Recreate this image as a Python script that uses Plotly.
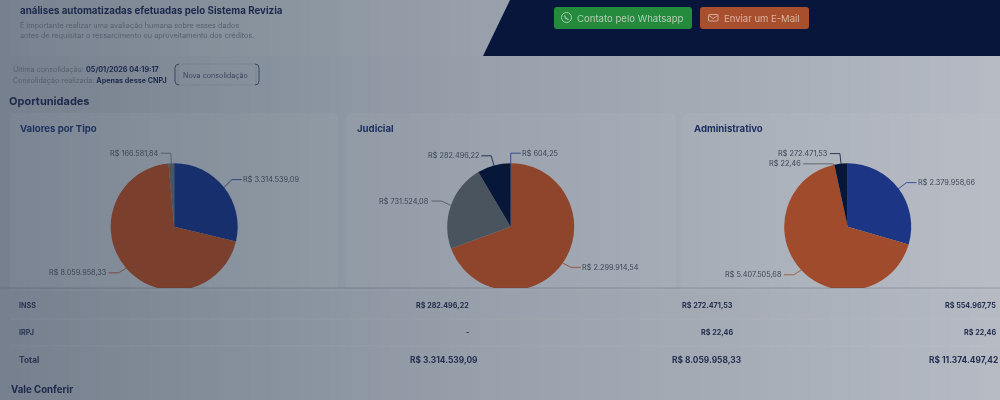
import math
import plotly.graph_objects as go

W, H = 1000, 400

# valores
tipo_valores = [3314539.09, 8059958.33, 166581.84]
tipo_cores = ['#182f6e', '#7b3f2e', '#4a555f']

judicial_valores = [604.25, 2299914.54, 731524.08, 282496.22]
judicial_cores = ['#1d357a', '#8f452c', '#4a545e', '#07173a']

admin_valores = [2379958.66, 5407505.68, 22.46, 272471.53]
admin_cores = ['#1c3584', '#a04b2b', '#4a545e', '#07173a']

tabela_linhas = ['INSS', 'IRPJ', 'Total']
tabela_judicial = ['R$ 282.496,22', '-', 'R$ 3.314.539,09']
tabela_admin = ['R$ 272.471,53', 'R$ 22,46', 'R$ 8.059.958,33']
tabela_total = ['R$ 554.967,75', 'R$ 22,46', 'R$ 11.374.497,42']

FONTE = 'Inter'
ESCURO = '#1c294b'
CINZA = '#56606f'

# gradiente do fundo (x, r, g, b)
fundo_stops = [(0, 118, 128, 142), (300, 138, 148, 160), (500, 153, 161, 172),
               (700, 164, 171, 181), (1000, 182, 187, 196)]


def px(x):
    return x / W


def py(y):
    return 1 - y / H


def brl(v):
    s = f'{v:,.2f}'.replace(',', '#').replace('.', ',').replace('#', '.')
    return 'R$ ' + s


def cor_fundo(x, extra=0):
    for (x0, r0, g0, b0), (x1, r1, g1, b1) in zip(fundo_stops, fundo_stops[1:]):
        if x <= x1:
            t = (x - x0) / (x1 - x0)
            return 'rgb(%d,%d,%d)' % (r0 + (r1 - r0) * t + extra,
                                      g0 + (g1 - g0) * t + extra,
                                      b0 + (b1 - b0) * t + extra)
    return 'rgb(182,187,196)'


def caminho(pontos, fechar=False):
    d = 'M' + ' L'.join(f'{px(x):.5f},{py(y):.5f}' for x, y in pontos)
    return d + (' Z' if fechar else '')


def ret_arred(x0, y0, x1, y1, r):
    return (f'M{px(x0 + r):.5f},{py(y0):.5f} L{px(x1 - r):.5f},{py(y0):.5f} '
            f'Q{px(x1):.5f},{py(y0):.5f} {px(x1):.5f},{py(y0 + r):.5f} '
            f'L{px(x1):.5f},{py(y1 - r):.5f} '
            f'Q{px(x1):.5f},{py(y1):.5f} {px(x1 - r):.5f},{py(y1):.5f} '
            f'L{px(x0 + r):.5f},{py(y1):.5f} '
            f'Q{px(x0):.5f},{py(y1):.5f} {px(x0):.5f},{py(y1 - r):.5f} '
            f'L{px(x0):.5f},{py(y0 + r):.5f} '
            f'Q{px(x0):.5f},{py(y0):.5f} {px(x0 + r):.5f},{py(y0):.5f} Z')


shapes = []
annotations = []


def forma(d, fill='rgba(0,0,0,0)', line=None, width=1, layer='below'):
    shapes.append(dict(type='path', path=d, xref='paper', yref='paper', fillcolor=fill,
                       line=dict(color=line or 'rgba(0,0,0,0)', width=width if line else 0),
                       layer=layer))


def texto(x, y, s, size=8, color=CINZA, anchor='left', bold=False):
    annotations.append(dict(x=px(x), y=py(y), xref='paper', yref='paper', text=f'<b>{s}</b>' if bold else s,
                            showarrow=False, xanchor=anchor, yanchor='middle', align=anchor,
                            borderpad=0, borderwidth=0, font=dict(family=FONTE, size=size, color=color)))


# faixas do gradiente: a parte de baixo fica acima das pizzas (tabela corta as fatias)
for x in range(0, W, 10):
    c = cor_fundo(x + 5)
    for y0, y1, layer in [(0, 288, 'below'), (288, 400, 'above')]:
        forma(caminho([(x, y0), (x + 10.5, y0), (x + 10.5, y1), (x, y1)], True), fill=c, layer=layer)

# cartões
forma(ret_arred(10, -10, 480, 56, 6), fill='rgba(255,255,255,0.02)')
for x0, x1 in [(10, 338), (346, 676), (683, 1010)]:
    forma(ret_arred(x0, 113, x1, 300, 6), fill='rgba(255,255,255,0.04)')
forma(caminho([(0, 288), (1000, 288)]), line='rgba(50,60,75,0.25)', layer='above')

# faixa escura do topo
forma(caminho([(510, 0), (1000, 0), (1000, 56), (483, 56)], True), fill='#07163a')
forma(ret_arred(554, 7, 692, 29, 3), fill='#248a3c')
forma(ret_arred(700, 7, 809, 29, 3), fill='#a84f2e')
shapes.append(dict(type='circle', xref='paper', yref='paper', x0=px(561.5), x1=px(571.5), y0=py(12.5), y1=py(22.5),
                   line=dict(color='#a9c9b0', width=1)))
forma(caminho([(564.5, 15.5), (565.5, 18), (568.5, 19.8)]), line='#a9c9b0', width=1.2)
forma(ret_arred(708.5, 14.5, 718, 21, 1), line='#d9ab98')
forma(caminho([(709, 15.5), (713.2, 18.5), (717.5, 15.5)]), line='#d9ab98')
texto(577, 18, 'Contato pelo Whatsapp', 9.6, '#b4cdb9')
texto(724, 18, 'Enviar um E-Mail', 9.5, '#dcb3a2')

# cabeçalho
texto(20, 10, 'análises automatizadas efetuadas pelo Sistema Revizia', 9.75, ESCURO, bold=True)
texto(20, 25, 'É importante realizar uma avaliação humana sobre esses dados', 7.3)
texto(20, 36, 'antes de requisitar o ressarcimento ou aproveitamento dos créditos.', 7.3)
texto(13, 69.5, 'Última consolidação: <b style="color:#1c294b">05/01/2026 04:19:17</b>', 7.2)
texto(13, 80.5, 'Consolidação realizada: <b style="color:#1c294b">Apenas desse CNPJ</b>', 7.2)
texto(183, 75, 'Nova consolidação', 7.2, '#3c4760')
forma(f'M{px(179):.5f},{py(64):.5f} Q{px(175):.5f},{py(64):.5f} {px(175):.5f},{py(68):.5f} '
      f'L{px(175):.5f},{py(81):.5f} Q{px(175):.5f},{py(85):.5f} {px(179):.5f},{py(85):.5f}', line='#3c4760')
forma(f'M{px(255):.5f},{py(64):.5f} Q{px(259):.5f},{py(64):.5f} {px(259):.5f},{py(68):.5f} '
      f'L{px(259):.5f},{py(81):.5f} Q{px(259):.5f},{py(85):.5f} {px(255):.5f},{py(85):.5f}', line='#3c4760')
forma(ret_arred(178, 64, 256, 85, 1), line='rgba(60,71,96,0.15)')
texto(9, 101.5, 'Oportunidades', 11, ESCURO, bold=True)
texto(11, 389, 'Vale Conferir', 9.7, ESCURO, bold=True)

fig = go.Figure()

# pizzas: centro, raio, título
CY, R = 226.7, 63.5
pizzas = [
    dict(cx=174.2, titulo='Valores por Tipo', tx=20, valores=tipo_valores, cores=tipo_cores,
         dy={0: -1.5, 1: -2}, l2={}),
    dict(cx=510.7, titulo='Judicial', tx=357, valores=judicial_valores, cores=judicial_cores,
         dy={1: -1.5, 2: -1}, l2={}),
    dict(cx=847.7, titulo='Administrativo', tx=694, valores=admin_valores, cores=admin_cores,
         dy={1: -2, 2: 9}, l2={2: 19}),
]

for p in pizzas:
    fig.add_trace(go.Pie(
        values=p['valores'],
        sort=False,
        direction='clockwise',
        rotation=0,
        textinfo='none',
        hoverinfo='skip',
        showlegend=False,
        marker=dict(colors=p['cores'], line=dict(width=0)),
        domain=dict(x=[px(p['cx'] - R), px(p['cx'] + R)], y=[py(CY + R), py(CY - R)]),
    ))
    texto(p['tx'], 128, p['titulo'], 9.6, '#1e3160', bold=True)

    # linhas guia calculadas do ângulo de cada fatia
    total = sum(p['valores'])
    acum = 0
    for i, v in enumerate(p['valores']):
        meio = (acum + v / 2) / total * 2 * math.pi
        acum += v
        sx, cx_ = math.sin(meio), math.cos(meio)
        x0, y0 = p['cx'] + R * sx, CY - R * cx_
        x1, y1 = p['cx'] + (R + 10) * sx, CY - (R + 10) * cx_ + p['dy'].get(i, 0)
        lado = 1 if (sx > 0 or v / total < 0.001 and i == 0) else -1
        x2 = x1 + lado * (10 + p['l2'].get(i, 0))
        forma(caminho([(x0, y0), (x1, y1), (x2, y1)]), line=p['cores'][i], width=0.8)
        texto(x2 + (1.5 if lado > 0 else -2), y1, brl(v), 7.3, '#3b4554', 'left' if lado > 0 else 'right')

# tabela
y_linhas = [305, 332, 360]
for y in [290, 319, 346]:
    forma(caminho([(10, y), (1000, y)]), line='rgba(255,255,255,0.07)', layer='above')
for i, y in enumerate(y_linhas):
    tot = tabela_linhas[i] == 'Total'
    size = 8.4 if tot else 7.2
    texto(18.5, y, tabela_linhas[i], size, '#2b3652', bold=True)
    texto(478 if tot else 469, y, tabela_judicial[i], size, '#232f4f', 'right', True)
    texto(742 if tot else 733, y, tabela_admin[i], size, '#232f4f', 'right', True)
    texto(998 if tot else 996, y, tabela_total[i], size, '#232f4f', 'right', True)

fig.update_layout(
    width=W,
    height=H,
    margin=dict(l=0, r=0, t=0, b=0),
    paper_bgcolor='#8a94a0',
    shapes=shapes,
    annotations=annotations,
)

fig.write_html('out.html', config={'displayModeBar': False},
               post_script="document.body.style.margin='0';"
                           "document.querySelector('.js-plotly-plot').style.filter='blur(0.7px)';")
